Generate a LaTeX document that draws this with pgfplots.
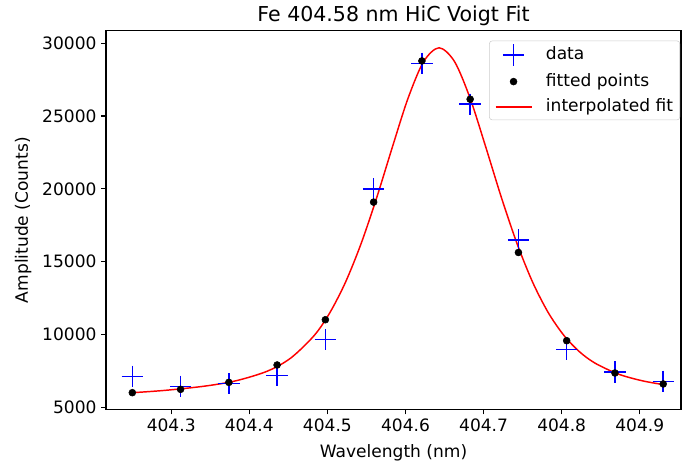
\documentclass[border=0pt]{standalone}
\usepackage{fontspec}
\setmainfont{DejaVu Sans}
\usepackage{pgfplots}
\pgfplotsset{compat=1.18}
\pgfplotsset{
  legmark/.style={legend image code/.code={\draw[mark repeat=2,mark phase=2,##1] plot coordinates {(0pt,0pt) (13.5pt,0pt) (27pt,0pt)};}},
  legline/.style={legend image code/.code={\draw[##1] (0pt,0pt) -- (27pt,0pt);}},
}
\begin{document}
\begin{tikzpicture}
\useasboundingbox (-79.5pt,-45pt) rectangle (432pt,307.25pt);
\begin{axis}[
  at={(0,0)}, anchor=south west,
  scale only axis, width=431.25pt, height=284.25pt,
  xmin=404.2165, xmax=404.9528, ymin=4828, ymax=30865,
  xtick={404.3,404.4,404.5,404.6,404.7,404.8,404.9},
  ytick={5000,10000,15000,20000,25000,30000},
  scaled y ticks=false, scaled x ticks=false,
  /pgf/number format/assume math mode=true,
  /pgf/number format/1000 sep={},
  xticklabel style={/pgf/number format/.cd,fixed,precision=1,fixed zerofill},
  tick label style={font=\fontsize{12.8}{15}\selectfont},
  label style={font=\fontsize{12.8}{15}\selectfont},
  title style={font=\fontsize{15.4}{18}\selectfont, at={(axis description cs:0.5,1.0229)}, anchor=base, yshift=-6pt},
  xlabel style={at={(axis description cs:0.5,-0.1267)}, anchor=base},
  ylabel style={at={(axis description cs:-0.1357,0.5)}, anchor=base, rotate=0},
  title={Fe 404.58 nm HiC Voigt Fit},
  xlabel={Wavelength (nm)}, ylabel={Amplitude (Counts)},
  tick align=outside, major tick length=3.6pt,
  xtick pos=bottom, ytick pos=left,
  axis line style={line width=0.8pt},
  every tick/.style={black, line width=0.8pt},
  legend style={at={(1,1)}, xshift=-0.75pt, yshift=-7.5pt, anchor=north east,
    font=\fontsize{12.8}{15}\selectfont,
    draw=black!20, rounded corners=2pt, inner xsep=4pt, inner ysep=2.5pt, row sep=4.9pt,
    nodes={inner sep=1pt, text height=9.6pt, text depth=2.6pt},
    cells={anchor=west}, column sep=9.25pt},
  legend cell align=left,
]
\addplot[only marks, mark=+, mark size=8pt, draw=blue, color=blue, mark options={draw=blue, line width=1.1pt}, legmark]
coordinates {
(404.2502,7114) (404.3120,6428) (404.3738,6613) (404.4356,7162)
(404.4974,9633) (404.5592,20000) (404.6210,28627) (404.6828,25813)
(404.7446,16498) (404.8064,8947) (404.8682,7416) (404.9300,6771)
};
\addlegendentry{data}
\addplot[only marks, mark=*, mark size=2.6pt, color=black, legmark]
coordinates {
(404.2502,5995) (404.3120,6222) (404.3738,6702) (404.4356,7897)
(404.4974,11006) (404.5592,19086) (404.6210,28785) (404.6828,26156)
(404.7446,15626) (404.8064,9565) (404.8682,7347) (404.9300,6593)
};
\addlegendentry{fitted points}
\addplot[red, line width=1.1pt, smooth, no marks, legline]
coordinates {
(404.250,5991) (404.293,6158) (404.343,6445) (404.383,6814)
(404.423,7471) (404.453,8371) (404.483,9917) (404.503,11476)
(404.523,13561) (404.543,16212) (404.563,19370) (404.583,22833)
(404.603,26181) (404.623,28722) (404.643,29690) (404.663,28722)
(404.683,26181) (404.703,22833) (404.723,19370) (404.743,16212)
(404.763,13561) (404.783,11476) (404.803,9917) (404.823,8797)
(404.843,8015) (404.873,7264) (404.903,6814) (404.932,6530)
};
\addlegendentry{interpolated fit}
\end{axis}
\end{tikzpicture}
\end{document}
